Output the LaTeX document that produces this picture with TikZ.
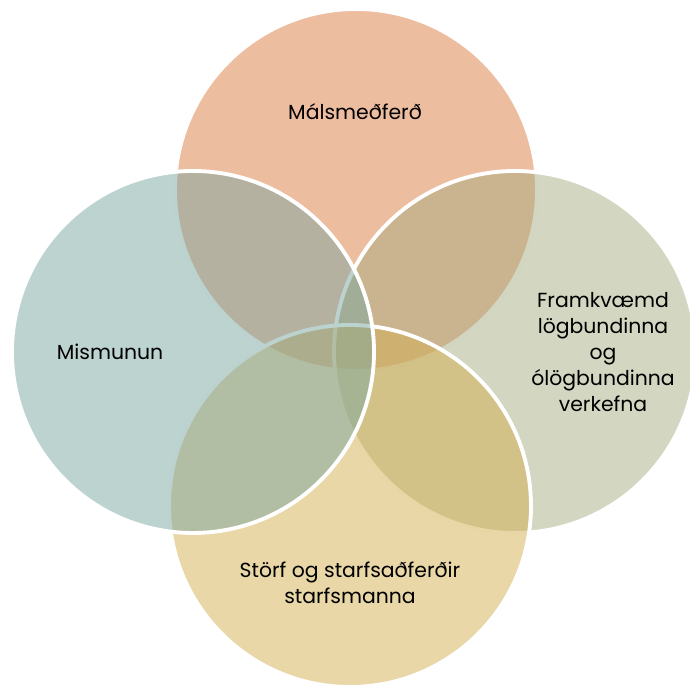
\documentclass[tikz,border=0pt]{standalone}
\usepackage{fontspec}
\setmainfont{Poppins}
\usetikzlibrary{positioning}
\definecolor{malcol}{RGB}{219,123,65}
\definecolor{miscol}{RGB}{123,167,161}
\definecolor{frmcol}{RGB}{167,173,129}
\definecolor{stocol}{RGB}{211,175,81}
\tikzset{
  venn/.style={fill opacity=0.5, draw=white, line width=1.1pt},
  lbl/.style={align=center, text=black, font=\fontsize{5.8}{7.4}\selectfont}
}

\begin{document}
\begin{tikzpicture}
    % Fix margins.
    \useasboundingbox (0,0) rectangle (6.9,6.88);
    \clip (0,0) rectangle (6.9,6.88);

    % Draw circles.
    \filldraw[venn, fill=malcol] (3.56,4.98) circle [radius=1.81];
    \filldraw[venn, fill=frmcol] (5.15,3.36) circle [radius=1.81];
    \filldraw[venn, fill=stocol] (3.50,1.82) circle [radius=1.81];
    \filldraw[venn, fill=miscol] (1.93,3.36) circle [radius=1.81];

    % Label circles.
    \node[lbl] (mal) at (3.55,5.76) {Málsmeðferð};
    \node[lbl] (mis) at (1.10,3.36) {Mismunun};
    \node[lbl] (frm) at (6.03,3.36) {Framkvæmd\\lögbundinna\\og\\ólögbundinna\\verkefna};
    \node[lbl] (sto) at (3.50,1.05) {Störf og starfsaðferðir\\starfsmanna};
\end{tikzpicture}
\end{document}
